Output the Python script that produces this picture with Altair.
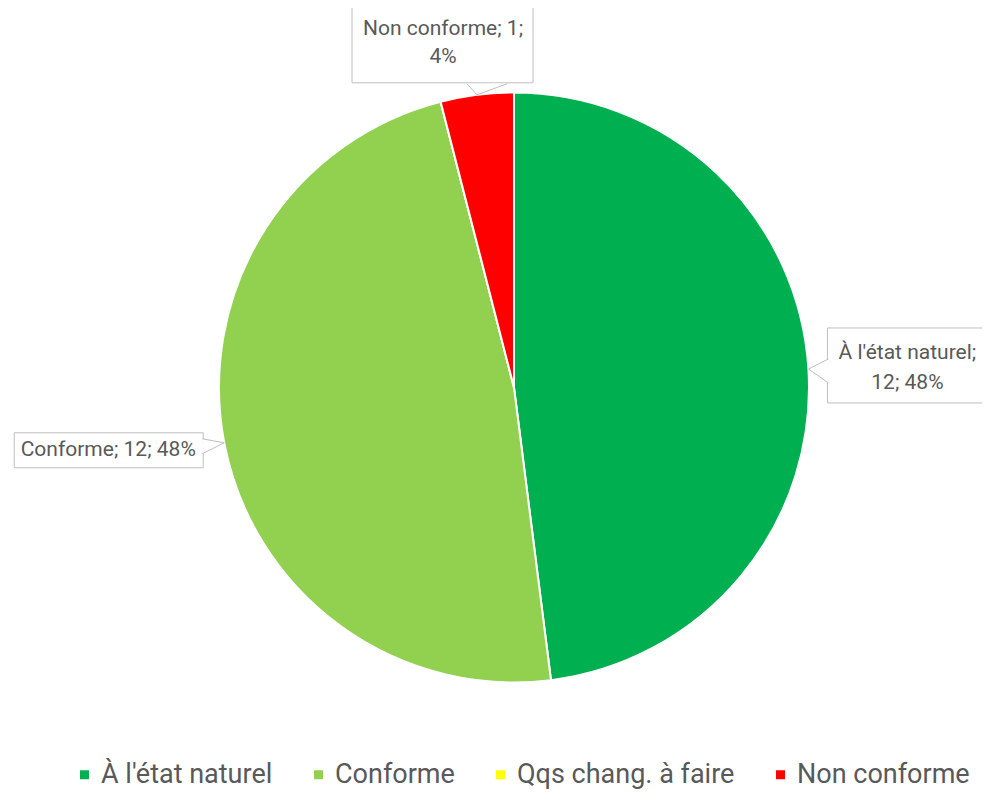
import math
import altair as alt
import pandas as pd

# ---- data ----
categories = ["À l'état naturel", "Conforme", "Qqs chang. à faire", "Non conforme"]
counts = [12, 12, 0, 1]
colors = ["#00B050", "#92D050", "#FFFF00", "#FF0000"]

# ---- layout (chart pixel coordinates; page margin is 8px) ----
W, H = 974, 782
CX, CY, R = 506, 379.5, 295
GREY = "#BFBFBF"
TXT = "#595959"
FONT = "Roboto"

total = sum(counts)
pie_df = pd.DataFrame({"cat": categories, "n": counts, "order": list(range(len(categories)))})

# callout layout per category: box (dx0, dx1, dy0, dy1) relative to the pointer tip,
# text line offsets and pointer path (pixels, relative to tip)
callouts = {
    "Non conforme": dict(box=(-125, 56, -91, -12), tx=-34, ty=[-66, -38],
                         path="M -10 -11 L 0 0 L 30 -11"),
    "À l'état naturel": dict(box=(19, 197, -41, 34), tx=99, ty=[-16, 14],
                             path="M 20 -10 L 0 0 L 20 14"),
    "Conforme": dict(box=(-210, -21, -10, 25), tx=-116, ty=[7],
                     path="M -22 -4 L 0 0 L -22 11"),
}

boxes, texts, tips = [], [], []
cum = 0
for cat, n in zip(categories, counts):
    start = cum
    cum += n
    if n == 0:
        continue
    mid = (start + n / 2) / total * 2 * math.pi
    tx0 = CX + R * math.sin(mid)
    ty0 = CY - R * math.cos(mid)
    pct = round(100 * n / total)
    c = callouts[cat]
    b = c["box"]
    boxes.append({"x0": tx0 + b[0], "x1": tx0 + b[1], "y0": ty0 + b[2], "y1": ty0 + b[3]})
    if len(c["ty"]) == 2:
        if cat == "Non conforme":
            lines = [f"{cat}; {n};", f"{pct}%"]
        else:
            lines = [f"{cat};", f"{n}; {pct}%"]
    else:
        lines = [f"{cat}; {n}; {pct}%"]
    for line, dy in zip(lines, c["ty"]):
        texts.append({"x": tx0 + c["tx"], "y": ty0 + dy, "t": line})
    tips.append({"x": tx0, "y": ty0, "path": c["path"]})

pie = alt.Chart(pie_df).mark_arc(outerRadius=R, stroke="white", strokeWidth=2).encode(
    theta=alt.Theta("n:Q", stack=True),
    order=alt.Order("order:Q"),
    color=alt.Color(
        "cat:N",
        scale=alt.Scale(domain=categories, range=colors),
        sort=categories,
        legend=alt.Legend(
            title=None, orient="none", legendX=63, legendY=753, direction="horizontal",
            symbolType="square", symbolSize=81, symbolStrokeWidth=0,
            labelFontSize=27, labelFont=FONT, labelColor=TXT, labelOffset=3,
            columnPadding=32, padding=0, labelLimit=400,
        ),
    ),
    x=alt.value(CX),
    y=alt.value(CY),
)

box_layer = alt.Chart(pd.DataFrame(boxes)).mark_rect(fill="white", stroke=GREY, strokeWidth=1).encode(
    x=alt.X("x0:Q", scale=None), x2="x1:Q",
    y=alt.Y("y0:Q", scale=None), y2="y1:Q",
)

tip_layers = []
for t in tips:
    tip_layers.append(
        alt.Chart(pd.DataFrame([t])).mark_point(
            shape=t["path"], size=4, filled=True, fill="white", stroke=GREY,
            strokeWidth=1, opacity=1,
        ).encode(x=alt.X("x:Q", scale=None), y=alt.Y("y:Q", scale=None))
    )

text_layer = alt.Chart(pd.DataFrame(texts)).mark_text(
    font=FONT, fontSize=21, color=TXT, align="center", baseline="middle"
).encode(
    x=alt.X("x:Q", scale=None), y=alt.Y("y:Q", scale=None), text="t:N"
)

chart = alt.layer(pie, box_layer, *tip_layers, text_layer).properties(
    width=W, height=H, autosize=alt.AutoSizeParams(type="none"), padding=0
).configure_view(stroke=None)

chart.save("out.html", embed_options={"renderer": "svg", "actions": False})
